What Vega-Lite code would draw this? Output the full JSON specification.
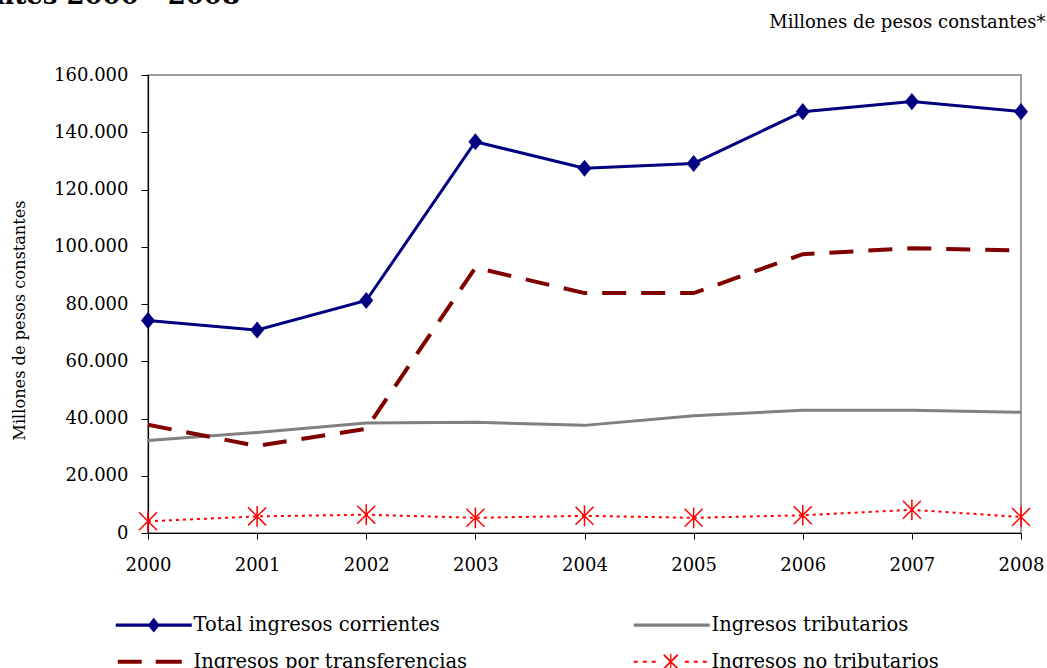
{
  "$schema": "https://vega.github.io/schema/vega-lite/v6.json",
  "width": 873,
  "height": 458,
  "autosize": "none",
  "padding": {"left": 148, "top": 75, "right": 26, "bottom": 135},
  "background": "white",
  "config": {
    "font": "DejaVu Serif",
    "locale": {"number": {"decimal": ",", "thousands": ".", "grouping": [3], "currency": ["$", ""]}},
    "view": {"stroke": "#808080", "strokeWidth": 1.5},
    "axis": {"grid": false, "domainColor": "#000000", "domainWidth": 1.2, "tickColor": "#000000", "tickWidth": 1, "labelColor": "#000000", "labelFont": "DejaVu Serif", "labelFontSize": 18, "titleFont": "DejaVu Serif", "titleFontWeight": "normal", "titleColor": "#000000"},
    "legend": {"orient": "none", "legendX": -35, "legendY": 540, "columns": 2, "columnPadding": 163, "rowPadding": 16, "labelFont": "DejaVu Serif", "labelFontSize": 19.5, "labelColor": "#000000", "labelLimit": 600, "symbolSize": 196, "symbolOpacity": 1, "symbolStrokeWidth": 0, "labelOffset": 61, "padding": 0}
  },
  "title": {"text": "Evolución de los ingresos corrientes 2000 - 2008", "anchor": "end", "frame": "group", "fontSize": 26, "fontWeight": "bold", "font": "DejaVu Serif", "color": "#000000", "baseline": "alphabetic", "offset": 10, "dx": -781, "dy": 27},
  "data": {"values": [
    {"year": "2000", "series": "Total ingresos corrientes", "value": 74200},
    {"year": "2001", "series": "Total ingresos corrientes", "value": 70900},
    {"year": "2002", "series": "Total ingresos corrientes", "value": 81200},
    {"year": "2003", "series": "Total ingresos corrientes", "value": 136700},
    {"year": "2004", "series": "Total ingresos corrientes", "value": 127400},
    {"year": "2005", "series": "Total ingresos corrientes", "value": 129100},
    {"year": "2006", "series": "Total ingresos corrientes", "value": 147200},
    {"year": "2007", "series": "Total ingresos corrientes", "value": 150700},
    {"year": "2008", "series": "Total ingresos corrientes", "value": 147200},
    {"year": "2000", "series": "Ingresos tributarios", "value": 32300},
    {"year": "2001", "series": "Ingresos tributarios", "value": 35100},
    {"year": "2002", "series": "Ingresos tributarios", "value": 38400},
    {"year": "2003", "series": "Ingresos tributarios", "value": 38700},
    {"year": "2004", "series": "Ingresos tributarios", "value": 37600},
    {"year": "2005", "series": "Ingresos tributarios", "value": 41000},
    {"year": "2006", "series": "Ingresos tributarios", "value": 42900},
    {"year": "2007", "series": "Ingresos tributarios", "value": 42900},
    {"year": "2008", "series": "Ingresos tributarios", "value": 42200},
    {"year": "2000", "series": "Ingresos por transferencias", "value": 37800},
    {"year": "2001", "series": "Ingresos por transferencias", "value": 30400},
    {"year": "2002", "series": "Ingresos por transferencias", "value": 36400},
    {"year": "2003", "series": "Ingresos por transferencias", "value": 92700},
    {"year": "2004", "series": "Ingresos por transferencias", "value": 83800},
    {"year": "2005", "series": "Ingresos por transferencias", "value": 83800},
    {"year": "2006", "series": "Ingresos por transferencias", "value": 97400},
    {"year": "2007", "series": "Ingresos por transferencias", "value": 99500},
    {"year": "2008", "series": "Ingresos por transferencias", "value": 98700},
    {"year": "2000", "series": "Ingresos no tributarios", "value": 4100},
    {"year": "2001", "series": "Ingresos no tributarios", "value": 5800},
    {"year": "2002", "series": "Ingresos no tributarios", "value": 6400},
    {"year": "2003", "series": "Ingresos no tributarios", "value": 5300},
    {"year": "2004", "series": "Ingresos no tributarios", "value": 6000},
    {"year": "2005", "series": "Ingresos no tributarios", "value": 5300},
    {"year": "2006", "series": "Ingresos no tributarios", "value": 6200},
    {"year": "2007", "series": "Ingresos no tributarios", "value": 8100},
    {"year": "2008", "series": "Ingresos no tributarios", "value": 5600}
  ]},
  "resolve": {"axis": {"x": "independent"}},
  "layer": [
    {
      "encoding": {
        "x": {"field": "year", "type": "ordinal", "scale": {"type": "point", "padding": 0},
          "axis": {"title": null, "orient": "bottom", "labelAngle": 0, "tickSize": 6, "labelPadding": 17}},
        "y": {"field": "value", "type": "quantitative", "scale": {"domain": [0, 160000], "nice": false},
          "axis": {"values": [0, 20000, 40000, 60000, 80000, 100000, 120000, 140000, 160000], "format": ",d", "tickSize": 7, "labelPadding": 13,
            "title": "Millones de pesos constantes", "titleFontSize": 16.2, "titleBaseline": "alphabetic", "titleAngle": 270, "titleAlign": "center", "titleX": -124, "titleY": 245}}
      },
      "layer": [
        {
          "transform": [{"filter": "datum.series == 'Ingresos tributarios'"}],
          "mark": {"type": "line", "color": "#808080", "strokeWidth": 3}
        },
        {
          "transform": [{"filter": "datum.series == 'Ingresos por transferencias'"}],
          "mark": {"type": "line", "color": "#800000", "strokeWidth": 4, "strokeDash": [24, 15]}
        },
        {
          "transform": [{"filter": "datum.series == 'Ingresos no tributarios'"}],
          "mark": {"type": "line", "color": "#FF0000", "strokeWidth": 2, "strokeDash": [3, 4]}
        },
        {
          "transform": [{"filter": "datum.series == 'Ingresos no tributarios'"}],
          "mark": {"type": "point", "shape": "M-1,-1L1,1M1,-1L-1,1M0,-1.15V1.15", "size": 324, "filled": false, "color": "#FF0000", "strokeWidth": 1.5, "opacity": 1}
        },
        {
          "transform": [{"filter": "datum.series == 'Total ingresos corrientes'"}],
          "mark": {"type": "line", "color": "#000080", "strokeWidth": 3}
        },
        {
          "transform": [{"filter": "datum.series == 'Total ingresos corrientes'"}],
          "mark": {"type": "point", "shape": "M0,-1.1L0.9,0L0,1.1L-0.9,0Z", "size": 240, "filled": true, "color": "#000080", "opacity": 1}
        }
      ]
    },
    {
      "mark": {"type": "point", "opacity": 0, "filled": true, "size": 196},
      "encoding": {
        "x": {"field": "year", "type": "ordinal", "scale": {"type": "point", "padding": 0},
          "axis": {"orient": "top", "labels": false, "ticks": false, "domain": false,
            "title": "Millones de pesos constantes*", "titleFontSize": 18, "titleFontWeight": "normal", "titleAlign": "right", "titleAnchor": "end", "titleBaseline": "alphabetic", "titleAngle": 0, "titleX": 897, "titleY": -48}},
        "y": {"field": "value", "type": "quantitative"},
        "color": {"field": "series", "type": "nominal",
          "scale": {"domain": ["Total ingresos corrientes", "Ingresos por transferencias", "Ingresos tributarios", "Ingresos no tributarios"], "range": ["#000080", "#800000", "#808080", "#FF0000"]},
          "legend": {"title": null}
        },
        "shape": {"field": "series", "type": "nominal",
          "scale": {"domain": ["Total ingresos corrientes", "Ingresos por transferencias", "Ingresos tributarios", "Ingresos no tributarios"],
            "range": [
              "M-1,-0.22H9.86V0.22H-1Z M4.43,-1.07L5.29,0L4.43,1.07L3.57,0Z",
              "M-0.71,-0.29H2.71V0.29H-0.71Z M4.71,-0.29H8.43V0.29H4.71Z",
              "M-1,-0.22H9.86V0.22H-1Z",
              "M-1,-0.14H-0.43V0.14H-1Z M0.29,-0.14H0.86V0.14H0.29Z M1.57,-0.14H2.14V0.14H1.57Z M6.29,-0.14H6.86V0.14H6.29Z M7.57,-0.14H8.14V0.14H7.57Z M8.86,-0.14H9.43V0.14H8.86Z M3.37,-1.09L5.37,0.91L5.21,1.09L3.21,-0.91Z M5.37,-0.91L3.37,1.09L3.21,0.91L5.21,-1.09Z M4.2,-1.15H4.38V1.15H4.2Z"
            ]},
          "legend": {"title": null}
        }
      }
    }
  ]
}
